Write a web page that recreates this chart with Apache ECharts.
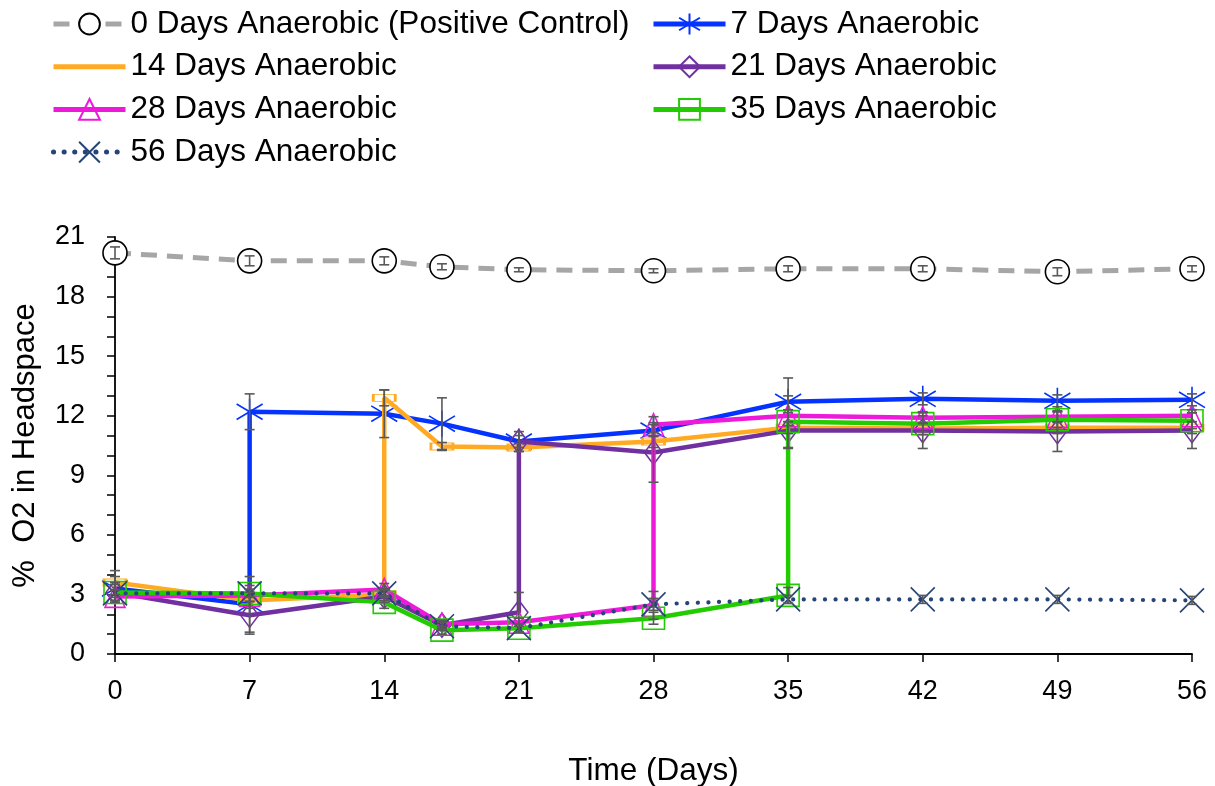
<!DOCTYPE html>
<html>
<head>
<meta charset="utf-8">
<script src="https://cdn.jsdelivr.net/npm/echarts@6/dist/echarts.min.js"></script>
<style>html,body{margin:0;padding:0;background:#fff}#c{width:1215px;height:786px}</style>
</head>
<body>
<div id="c"></div>
<script>
// ---- Data ----
const xTicks = [0, 7, 14, 21, 28, 35, 42, 49, 56];

const x0 = [0, 7, 14, 17, 21, 28, 35, 42, 49, 56];
const y0 = [20.2, 19.8, 19.8, 19.5, 19.35, 19.3, 19.4, 19.4, 19.25, 19.4];
const e0 = [0.3, 0.25, 0.2, 0.15, 0.1, 0.1, 0.15, 0.15, 0.2, 0.15];

const x7 = [0, 7, 7, 14, 17, 21, 28, 35, 42, 49, 56];
const y7 = [3.3, 2.5, 12.2, 12.1, 11.6, 10.7, 11.25, 12.7, 12.85, 12.75, 12.8];
const e7 = [0.6, 1.4, 0.9, 1.2, 1.3, 0.3, 0.3, 1.2, 0.3, 0.3, 0.3];

const x14 = [0, 7, 14, 14, 17, 21, 28, 35, 42, 49, 56];
const y14 = [3.6, 2.7, 3.0, 12.9, 10.45, 10.4, 10.7, 11.4, 11.35, 11.4, 11.4];
const e14 = [0.6, 0.4, 0.3, 0.4, 0.2, 0.2, 0.3, 0.3, 0.3, 0.3, 0.3];

const x21 = [0, 7, 14, 17, 21, 21, 28, 35, 42, 49, 56];
const y21 = [3.1, 1.95, 2.9, 1.45, 2.1, 10.7, 10.15, 11.25, 11.25, 11.2, 11.25];
const e21 = [0.5, 0.95, 0.3, 0.2, 1.0, 0.5, 1.5, 0.9, 0.9, 1.0, 0.9];

const x28 = [0, 7, 14, 17, 21, 28, 28, 35, 42, 49, 56];
const y28 = [2.9, 2.95, 3.25, 1.5, 1.6, 2.45, 11.55, 12.0, 11.9, 11.95, 12.0];
const e28 = [0.3, 0.3, 0.3, 0.2, 0.2, 0.7, 0.4, 0.3, 0.3, 0.3, 0.3];

const x35 = [0, 7, 14, 17, 21, 28, 35, 35, 42, 49, 56];
const y35 = [3.1, 3.05, 2.6, 1.2, 1.3, 1.8, 2.95, 11.7, 11.6, 11.8, 11.75];
const e35 = [0.4, 0.4, 0.3, 0.2, 0.2, 0.3, 0.4, 1.3, 0.4, 0.4, 0.4];

const x56 = [0, 7, 14, 17, 21, 28, 35, 42, 49, 56];
const y56 = [3.05, 3.05, 3.05, 1.4, 1.3, 2.5, 2.75, 2.75, 2.75, 2.7];
const e56 = [0.2, 0.2, 0.2, 0.2, 0.2, 0.3, 0.2, 0.2, 0.2, 0.2];

const names = [
  '0 Days Anaerobic (Positive Control)', '7 Days Anaerobic', '14 Days Anaerobic',
  '21 Days Anaerobic', '28 Days Anaerobic', '35 Days Anaerobic', '56 Days Anaerobic'
];
const colors = ['#A6A6A6', '#0433FF', '#FFAA22', '#7030A0', '#EE1ADB', '#22CC00', '#264478'];

// ---- Build ----
const FONT = 'Liberation Sans, Arial, sans-serif';
const zip = (xs, ys) => xs.map((x, i) => [x, ys[i]]);
const zipE = (xs, ys, es) => xs.map((x, i) => [x, ys[i], es[i]]);

const SYM_AST = 'path://M0,-1L0,1M-0.95,-0.6L0.95,0.6M-0.95,0.6L0.95,-0.6';
const SYM_X = 'path://M-1,-1L1,1M-1,1L1,-1';
const SYM_DIAMOND = 'path://M0,-1L0.75,0L0,1L-0.75,0Z';
const SYM_TRI = 'path://M0,-1L0.85,1L-0.85,1Z';
const SYM_SQ = 'path://M-1,-1L1,-1L1,1L-1,1Z';
const SYM_DASH = 'path://M-1,-0.3L1,-0.3L1,0.3L-1,0.3Z';

function lineSeries(i, xs, ys, symbol, size, lineType, width, fill, border, cap) {
  return {
    name: names[i], type: 'line', data: zip(xs, ys),
    symbol: symbol, symbolSize: size, showSymbol: true,
    lineStyle: {color: colors[i], width: width, type: lineType, cap: cap || 'butt'},
    itemStyle: {color: fill, borderColor: border || colors[i], borderWidth: 1.6},
    z: 2 + i, animation: false, emphasis: {disabled: true}
  };
}

const series = [
  lineSeries(0, x0, y0, 'circle', 24, [16, 10], 5, '#ffffff', '#000000'),
  lineSeries(1, x7, y7, SYM_AST, 26, 'solid', 4.5, 'rgba(0,0,0,0)'),
  lineSeries(2, x14, y14, SYM_DASH, [22, 7], 'solid', 4.5, 'rgba(0,0,0,0)'),
  lineSeries(3, x21, y21, SYM_DIAMOND, [18, 24], 'solid', 4.5, 'rgba(0,0,0,0)'),
  lineSeries(4, x28, y28, SYM_TRI, [20, 22], 'solid', 4.5, 'rgba(0,0,0,0)'),
  lineSeries(5, x35, y35, SYM_SQ, 22, 'solid', 4.5, 'rgba(0,0,0,0)'),
  lineSeries(6, x56, y56, SYM_X, 24, [0.1, 10.5], 4.2, 'rgba(0,0,0,0)', null, 'round')
];

const errData = []
  .concat(zipE(x0, y0, e0), zipE(x7, y7, e7), zipE(x14, y14, e14), zipE(x21, y21, e21),
          zipE(x28, y28, e28), zipE(x35, y35, e35), zipE(x56, y56, e56));

series.push({
  type: 'custom', name: 'err', data: errData, z: 20, animation: false, silent: true,
  encode: {x: 0, y: 1},
  renderItem: function (params, api) {
    const x = api.value(0), y = api.value(1), e = api.value(2);
    if (!e) return null;
    const t = api.coord([x, y + e]);
    const b = api.coord([x, Math.max(0, y - e)]);
    const w = 5;
    const st = {stroke: '#595959', lineWidth: 1.6};
    return {
      type: 'group', children: [
        {type: 'line', shape: {x1: t[0], y1: t[1], x2: b[0], y2: b[1]}, style: st},
        {type: 'line', shape: {x1: t[0] - w, y1: t[1], x2: t[0] + w, y2: t[1]}, style: st},
        {type: 'line', shape: {x1: b[0] - w, y1: b[1], x2: b[0] + w, y2: b[1]}, style: st}
      ]
    };
  }
});

const legendText = {fontFamily: FONT, fontSize: 31.5, color: '#000', lineHeight: 32};
const legendCommon = {
  top: 8, orient: 'vertical', itemWidth: 72, itemHeight: 26, itemGap: 10.7,
  textStyle: legendText, selectedMode: false, padding: 0,
  lineStyle: {width: 5}
};
const option = {
  backgroundColor: '#ffffff',
  animation: false,
  textStyle: {fontFamily: FONT},
  legend: [
    Object.assign({left: 51, data: [
      names[0],
      {name: names[2], icon: 'path://M0,0L72,0L72,5L0,5Z', itemStyle: {color: colors[2], borderWidth: 0}},
      names[4], names[6]]}, legendCommon),
    Object.assign({left: 651, data: [names[1], names[3], names[5]]}, legendCommon)
  ],
  grid: {left: 115, right: 23, top: 237, bottom: 132, containLabel: false, outerBoundsMode: 'none'},
  xAxis: {
    type: 'value', min: 0, max: 56, interval: 7,
    name: 'Time (Days)', nameLocation: 'middle', nameGap: 101,
    nameTextStyle: {fontFamily: FONT, fontSize: 31.5, color: '#000'},
    axisLine: {lineStyle: {color: '#000', width: 1.8}},
    axisTick: {show: true, length: 8, lineStyle: {color: '#000', width: 1.5}},
    axisLabel: {fontFamily: FONT, fontSize: 27, color: '#000', margin: 24,
      formatter: v => (xTicks.indexOf(v) >= 0 ? String(v) : '')},
    splitLine: {show: false}
  },
  yAxis: {
    type: 'value', min: 0, max: 21, interval: 3,
    name: '%  O2 in Headspace', nameLocation: 'middle', nameGap: 74,
    nameTextStyle: {fontFamily: FONT, fontSize: 31, color: '#000'},
    axisLine: {show: true, lineStyle: {color: '#000', width: 1.8}},
    axisTick: {show: true, length: 8, lineStyle: {color: '#000', width: 1.5}},
    minorTick: {show: true, splitNumber: 3, length: 8, lineStyle: {color: '#000', width: 1.5}},
    axisLabel: {fontFamily: FONT, fontSize: 27, color: '#000', margin: 30},
    splitLine: {show: false}
  },
  series: series
};

const chart = echarts.init(document.getElementById('c'), null, {renderer: 'canvas'});
chart.setOption(option);
</script>
</body>
</html>
